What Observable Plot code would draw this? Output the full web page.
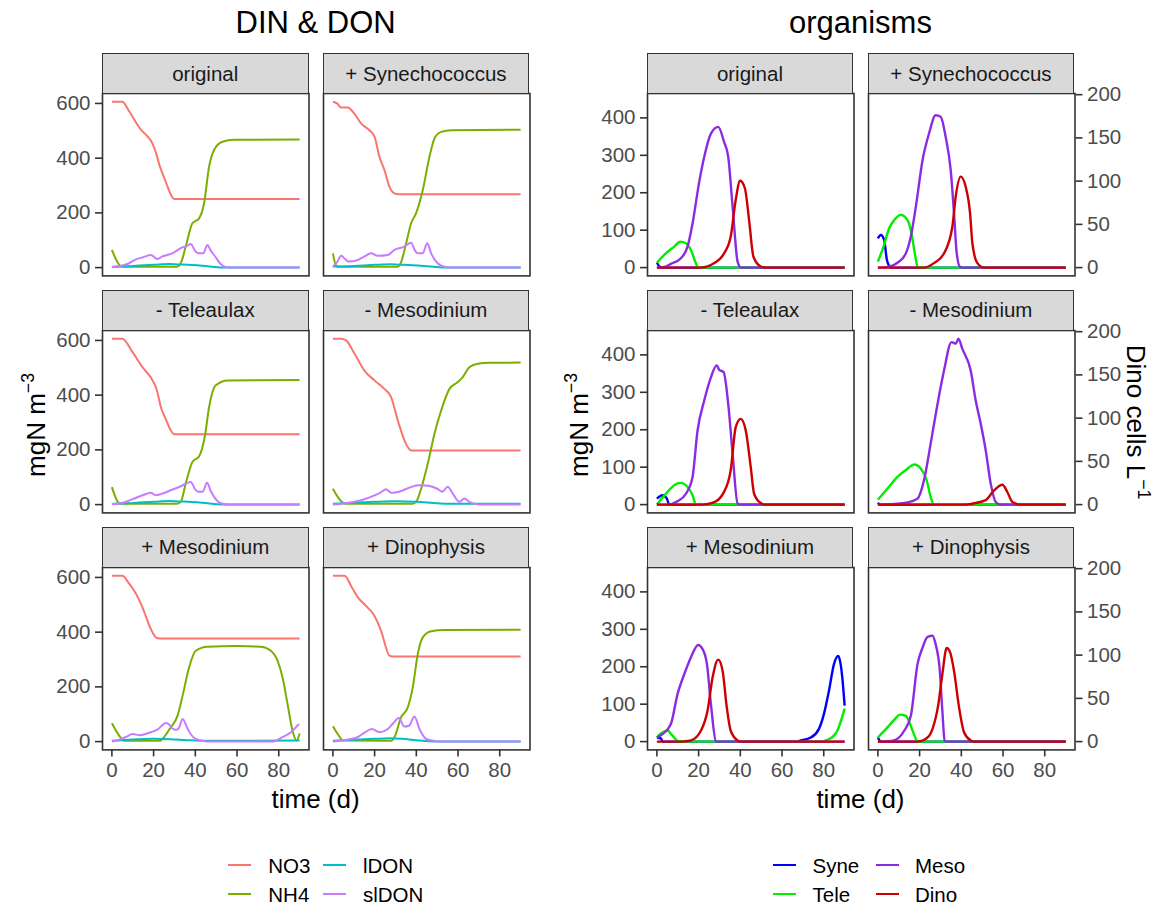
<!DOCTYPE html>
<html>
<head>
<meta charset="utf-8">
<script src="https://cdn.jsdelivr.net/npm/d3@7"></script>
<script src="https://cdn.jsdelivr.net/npm/@observablehq/plot@0.6"></script>
<style>
  html, body { margin: 0; padding: 0; background: #fff; }
  #chart { position: relative; width: 1158px; height: 908px; overflow: hidden;
           font-family: "Liberation Sans", Arial, Helvetica, sans-serif; }
  .abs { position: absolute; white-space: nowrap; }
  .strip { position: absolute; box-sizing: border-box; background: #d9d9d9;
           border: 1.6px solid #333; color: #1a1a1a; font-size: 20.5px;
           display: flex; align-items: center; justify-content: center; }
  sup { font-size: 0.68em; vertical-align: 0.6em; line-height: 0; }
  .facet svg { max-width: none !important; overflow: visible; }
</style>
</head>
<body>
<div id="chart"></div>
<script>
// ---------- facets ----------
const facets = ["original", "+ Synechococcus", "- Teleaulax", "- Mesodinium", "+ Mesodinium", "+ Dinophysis"];

// ---------- DIN & DON (mgN m-3), points are [day, value] ----------
const NO3_original = [[0,606],[5,606],[8,575],[12,525],[14,503],[17,480],[19,460],[21,423],[23,370],[25,330],[27,290],[29,257],[30,251],[90,251]];
const NH4_original = [[0,65],[3,16],[5,3],[31,3],[33,16],[35.5,80],[38.6,162],[41.8,180],[44.2,235],[46.6,369],[49,430],[53,460],[58.6,467],[90,468]];
const lDON_original = [[0,2],[10,6],[20,10],[28,13],[34,11],[42,8],[48,3],[54,0],[90,0]];
const slDON_original = [[0,2],[4,6],[8,15],[11,28],[15,38],[18.7,46],[21.8,31],[24,40],[26.6,46],[29,52],[33,71],[36,80],[37.8,86],[40,60],[41.5,52],[43.8,52],[45.8,83],[47.4,62],[49,46],[52.2,13],[54.5,2],[57,0],[90,0]];

const NO3_syn = [[0,606],[2,600],[4,585],[7,585],[10.3,563],[13.5,527],[17.5,502],[20,478],[22.3,405],[24.7,357],[27.1,296],[29.5,271],[31,268],[90,268]];
const NH4_syn = [[0,52],[1.5,8],[3,3],[31,3],[32.5,16],[35,85],[37.5,162],[39.9,199],[43.1,284],[46.3,405],[48.7,472],[51.9,496],[56.7,502],[90,504]];
const lDON_syn = [[0,4],[10,6],[20,10],[28,12],[34,10],[42,7],[48,3],[54,0],[90,0]];
const slDON_syn = [[0,3],[2,20],[4,43],[6,30],[7.5,22],[12,28],[15,40],[18.3,52],[21.5,43],[26.3,46],[29.5,65],[34.3,77],[37.5,91],[39.5,60],[40.7,52],[43.1,52],[45.2,89],[47.1,52],[50.2,16],[53,4],[56,0],[90,0]];

const NO3_noTele = [[0,606],[5,606],[9.9,557],[14.7,502],[19.5,454],[21.5,420],[23.5,356],[26,310],[28.5,268],[29.9,257],[90,257]];
const NH4_noTele = [[0,64],[3.5,5],[5,3],[31,3],[33,10],[35.5,80],[38.6,156],[41.8,176],[44.5,247],[46.6,356],[49.8,436],[55.4,454],[90,455]];
const lDON_noTele = [[0,2],[10,6],[20,10],[28,13],[34,11],[42,8],[48,3],[54,0],[90,0]];
const slDON_noTele = [[0,2],[5,6],[10,20],[15,35],[18.7,43],[21,34],[24,40],[29,55],[33,67],[37.8,83],[40,55],[41.5,47],[43.5,47],[45.6,80],[47.4,50],[50.5,14],[53,3],[56,0],[90,0]];

const NO3_noMeso = [[0,606],[4,606],[6.3,600],[10.4,551],[15.1,490],[19.9,454],[24.7,423],[27.9,393],[31.1,308],[34.3,235],[37,200],[37.5,198],[90,198]];
const NH4_noMeso = [[0,58],[4,12],[6,3],[38,3],[39.9,10],[42.3,58],[45.5,150],[48.7,259],[51.9,344],[55.9,423],[59.9,448],[62.3,466],[65.4,502],[69.5,515],[75,518],[90,519]];
const lDON_noMeso = [[0,3],[10,7],[20,10],[30,12],[40,10],[50,5],[56,3],[90,3]];
const slDON_noMeso = [[0,0],[6,5],[13.5,16],[20,34],[23,45],[25.5,56],[27.9,43],[30.5,45],[33.5,52],[36.7,62],[40.7,71],[44,70],[46.3,68],[50,58],[52.5,47],[55,65],[57.5,40],[60.7,10],[63,22],[65.4,10],[68.6,2],[71,0],[90,0]];

const NO3_addMeso = [[0,606],[5.1,606],[8,580],[10.7,551],[14.7,490],[18.7,411],[21.1,381],[22.7,377],[90,377]];
const NH4_addMeso = [[0,67],[4,16],[5.5,3],[23,3],[24.3,10],[28,50],[31.5,95],[33.9,168],[37,271],[40.2,332],[45.8,347],[60,349],[71.4,347],[76.2,332],[79.4,296],[81.8,235],[84.2,138],[86.6,40],[88.6,4],[90,30]];
const lDON_addMeso = [[0,3],[10,8],[20,10],[28,9],[35,6],[42,3],[90,4]];
const slDON_addMeso = [[0,0],[4,8],[7,18],[9.9,28],[13.5,23],[16,28],[19,35],[22,45],[25.9,68],[27.5,62],[29,48],[30.7,43],[32,48],[33.9,83],[36.3,47],[38,25],[40.2,10],[44.2,2],[46,0],[77,0],[81.8,16],[85.8,34],[89.7,65]];

const NO3_addDino = [[0,606],[5.6,606],[9,565],[12,527],[16,495],[19.9,460],[23.1,405],[27.1,314],[28.7,311],[90,311]];
const NH4_addDino = [[0,56],[3,20],[4.8,4],[28,3],[29.5,16],[32.7,89],[35.9,125],[38.3,198],[40.7,320],[43.1,381],[47.1,403],[53.5,408],[90,409]];
const lDON_addDino = [[0,3],[10,7],[20,10],[27,12],[33,10],[40,5],[46,1],[52,0],[90,0]];
const slDON_addDino = [[0,0],[5,5],[11.7,16],[15,32],[18.7,46],[22.3,34],[26.3,46],[28.7,65],[31.6,86],[34.3,55],[36.5,58],[39.1,92],[41.5,46],[44.7,10],[48.7,2],[51,0],[90,0]];

// ---------- organisms (mgN m-3; Dino drawn against the same axis) ----------
const Syne_original = [[0,13],[1.5,2],[3,0],[90,0]];
const Tele_original = [[0,13],[4.3,38],[8.3,56],[11.2,69],[13.9,65],[16.3,47],[19.5,3],[20.5,0],[90,0]];
const Meso_original = [[0,0],[3,1],[6.7,10],[11.5,25],[14.7,56],[17.1,118],[20.3,229],[22.7,296],[25.9,358],[29.4,376],[32.2,336],[34.2,296],[36.3,163],[38.7,16],[40.3,0],[90,0]];
const Dino_original = [[0,0],[21,0],[27.5,12],[32.2,38],[35.4,83],[37.8,181],[39.9,232],[42.2,212],[44.2,127],[46.3,29],[49.8,3],[52,0],[90,0]];

const Syne_syn = [[0,78],[1.4,87],[3,74],[4.3,21],[5.3,5],[6,0],[90,0]];
const Tele_syn = [[0,16],[2.7,56],[5.4,105],[7.8,127],[11,141],[14.2,127],[16.1,92],[17.7,38],[19,3],[20,0],[90,0]];
const Meso_syn = [[0,0],[5,2],[9.4,13],[13.4,38],[15.8,83],[18.2,163],[21.4,287],[24.5,358],[27.7,407],[30.1,403],[32.5,349],[34.9,261],[36.5,145],[37.8,38],[39.4,2],[41,0],[90,0]];
const Dino_syn = [[0,0],[22,0],[26.9,12],[31.7,38],[35.7,109],[37.3,189],[39.7,243],[42.1,216],[44.2,145],[45.3,65],[47.7,12],[50.9,0],[90,0]];

const Syne_noTele = [[0,16],[2.7,25],[4.8,16],[5.9,0],[90,0]];
const Tele_noTele = [[0,0],[5.1,34],[8.3,52],[11.5,58],[14.7,47],[17.1,25],[18.7,0],[90,0]];
const Meso_noTele = [[0,0],[5,0],[9.9,9],[13.9,29],[17.1,74],[19.5,198],[22.7,278],[25.9,340],[28.7,372],[29.9,360],[32,354],[34.2,269],[36.3,136],[38.7,3],[40,0],[90,0]];
const Dino_noTele = [[0,0],[22,0],[27,5],[32.2,34],[35.4,92],[37.8,207],[40.2,229],[42.6,198],[45,100],[46.6,29],[49.8,4],[52,0],[90,0]];

const Syne_noMeso = [[0,5],[1,0],[90,0]];
const Tele_noMeso = [[0,13],[4.6,43],[9.4,74],[14.2,96],[17.4,107],[20.6,96],[23.4,65],[25.3,20],[26.9,0],[90,0]];
const Meso_noMeso = [[0,0],[8,2],[14.2,6],[19,16],[22.1,65],[25.3,163],[28.6,269],[31.7,358],[35.3,434],[37.4,430],[38.6,443],[40.5,416],[44.5,358],[46.9,278],[49.3,216],[51.7,145],[54.1,56],[56.5,7],[58.9,0],[90,0]];
const Dino_noMeso = [[0,0],[42,0],[45.5,3],[51.7,12],[55.7,38],[59.7,53],[62.1,33],[64.5,7],[68.5,0],[90,0]];

const Syne_addMeso = [[0,11],[2,8],[2.7,0],[66,0],[69,3],[73.8,11],[77.7,34],[80.1,74],[82.5,136],[84.9,207],[86.9,229],[88.1,207],[88.9,171],[90,96]];
const Tele_addMeso = [[0,11],[1.9,22],[5.1,29],[7.5,16],[9.9,2],[11,0],[79,0],[81,3],[84.9,16],[86.5,29],[90,88]];
const Meso_addMeso = [[0,11],[2.7,20],[6.7,47],[9.9,127],[13.1,180],[16.3,225],[19.8,258],[21.9,247],[24,207],[25.9,100],[28.3,1],[29,0],[90,0]];
const Dino_addMeso = [[0,0],[12,0],[16.3,3],[21.1,29],[24.3,83],[26.7,171],[29.4,219],[31.5,189],[33.5,92],[35.4,29],[38.7,3],[40,0],[90,0]];

const Syne_addDino = [[0,11],[1.5,0],[90,0]];
const Tele_addDino = [[0,11],[4.6,38],[7.8,58],[10.6,72],[13.4,69],[15.4,47],[17.3,20],[19,0],[90,0]];
const Meso_addDino = [[0,0],[4,0],[7.8,3],[12.6,29],[15.8,69],[19,207],[21.4,251],[23.8,280],[26.2,283],[27.7,260],[29.7,189],[30.9,83],[32,3],[33,0],[90,0]];
const Dino_addDino = [[0,0],[19,0],[23.8,11],[26.2,34],[29,100],[30.9,180],[33,250],[34.6,239],[36.5,189],[38.9,92],[41.3,25],[44.5,3],[46,0],[90,0]];

// ---------- series, colours, ticks ----------
const dinNames = ["NO3", "NH4", "lDON", "slDON"];
const dinColors = ["#F8766D", "#7CAE00", "#00BFC4", "#C77CFF"];
const orgNames = ["Syne", "Tele", "Meso", "Dino"];
const orgColors = ["#0000FF", "#00EE00", "#8A2BE2", "#CD0000"];

const dinByFacet = [
  [NO3_original, NH4_original, lDON_original, slDON_original],
  [NO3_syn, NH4_syn, lDON_syn, slDON_syn],
  [NO3_noTele, NH4_noTele, lDON_noTele, slDON_noTele],
  [NO3_noMeso, NH4_noMeso, lDON_noMeso, slDON_noMeso],
  [NO3_addMeso, NH4_addMeso, lDON_addMeso, slDON_addMeso],
  [NO3_addDino, NH4_addDino, lDON_addDino, slDON_addDino]
];
const orgByFacet = [
  [Syne_original, Tele_original, Meso_original, Dino_original],
  [Syne_syn, Tele_syn, Meso_syn, Dino_syn],
  [Syne_noTele, Tele_noTele, Meso_noTele, Dino_noTele],
  [Syne_noMeso, Tele_noMeso, Meso_noMeso, Dino_noMeso],
  [Syne_addMeso, Tele_addMeso, Meso_addMeso, Dino_addMeso],
  [Syne_addDino, Tele_addDino, Meso_addDino, Dino_addDino]
];

const timeTicks = [0, 20, 40, 60, 80];
const dinTicks = [0, 200, 400, 600];
const orgTicks = [0, 100, 200, 300, 400];
const dinoCellTicks = [0, 50, 100, 150, 200];
const cellsToMgN = 2.31;   // secondary axis: Dino cells L-1 -> mgN m-3

// ---------- layout ----------
const FONT = '"Liberation Sans", Arial, Helvetica, sans-serif';
const PW = 206.5, PH = 182.4;
const ML = 60, MR = 60, MT = 4, MB = 44;
const STRIP = 40;
const dinCols = [102, 322.7];
const orgCols = [646.7, 867.7];
const rowTops = [93.3, 329.95, 566.6];
const root = document.getElementById("chart");

function text(html, cx, cy, size, opts = {}) {
  const d = document.createElement("div");
  d.className = "abs";
  d.innerHTML = html;
  d.style.left = cx + "px";
  d.style.top = cy + "px";
  d.style.fontSize = size + "px";
  d.style.lineHeight = "1";
  d.style.color = opts.color || "#000";
  d.style.transform = `translate(${opts.anchor === "start" ? "0" : "-50%"}, -50%)` + (opts.rotate ? ` rotate(${opts.rotate}deg)` : "");
  root.appendChild(d);
  return d;
}

const axisStyle = {tickSize: 7, stroke: "#333", strokeWidth: 1.6, fill: "#4d4d4d", label: null};

function facetPlot(seriesList, colors, yDomain, {left, right, bottom, leftTicks, lineWidth}) {
  const marks = [];
  seriesList.forEach((pts, i) => {
    const data = pts.map(([t, v]) => ({t, v}));
    marks.push(Plot.line(data, {x: "t", y: "v", stroke: colors[i], strokeWidth: lineWidth,
      curve: "monotone-x", strokeLinejoin: "round", strokeLinecap: "butt"}));
  });
  marks.push(Plot.frame({stroke: "#333", strokeWidth: 1.6}));
  if (left) marks.push(Plot.axisY(leftTicks, {...axisStyle, anchor: "left", tickPadding: 5}));
  if (right) marks.push(Plot.axisY(dinoCellTicks.map(c => c * cellsToMgN),
      {...axisStyle, anchor: "right", tickPadding: 5, tickFormat: d => String(Math.round(d / cellsToMgN))}));
  if (bottom) marks.push(Plot.axisX(timeTicks, {...axisStyle, anchor: "bottom", tickPadding: 6}));
  return Plot.plot({
    width: PW + ML + MR, height: PH + MT + MB,
    marginLeft: ML, marginRight: MR, marginTop: MT, marginBottom: MB,
    x: {domain: [-4.5, 94.5], axis: null},
    y: {domain: yDomain, axis: null},
    style: {background: "transparent", fontFamily: FONT, fontSize: "20.5px", overflow: "visible"},
    marks
  });
}

function addPanel(cols, byFacet, colors, yDomain, leftTicks, withRight, lineWidth) {
  facets.forEach((name, i) => {
    const row = Math.floor(i / 2), col = i % 2;
    const px = cols[col], py = rowTops[row];
    const holder = document.createElement("div");
    holder.className = "abs facet";
    holder.style.left = (px - ML) + "px";
    holder.style.top = (py - MT) + "px";
    holder.style.width = (PW + ML + MR) + "px";
    holder.appendChild(facetPlot(byFacet[i], colors, yDomain, {
      left: col === 0, right: withRight && col === 1, bottom: row === 2, leftTicks, lineWidth
    }));
    root.appendChild(holder);
    const s = document.createElement("div");
    s.className = "strip";
    s.textContent = name;
    s.style.left = px + "px";
    s.style.top = (py - STRIP) + "px";
    s.style.width = PW + "px";
    s.style.height = (STRIP + 1) + "px";
    root.appendChild(s);
  });
}

addPanel(dinCols, dinByFacet, dinColors, [-30.3, 636.3], dinTicks, false, 2);
addPanel(orgCols, orgByFacet, orgColors, [-22.15, 465.15], orgTicks, true, 2.4);

// titles and axis titles
const dinCx = (dinCols[0] + dinCols[1] + PW) / 2;
const orgCx = (orgCols[0] + orgCols[1] + PW) / 2;
text("DIN &amp; DON", dinCx, 22, 31);
text("organisms", orgCx, 22, 31);
text("time (d)", dinCx, 799, 26);
text("time (d)", orgCx, 799, 26);
text("mgN m<sup>−3</sup>", 36, 425, 26, {rotate: -90});
text("mgN m<sup>−3</sup>", 579, 425, 26, {rotate: -90});
text("Dino cells L<sup>−1</sup>", 1136, 422, 26, {rotate: 90});

// legends: two columns, filled column by column
function legend(names, colors, keyXs, textXs, rowYs) {
  names.forEach((n, i) => {
    const col = Math.floor(i / 2), row = i % 2;
    const k = document.createElement("div");
    k.className = "abs";
    k.style.left = keyXs[col] + "px";
    k.style.top = (rowYs[row] - 1) + "px";
    k.style.width = "22.5px";
    k.style.height = "2.2px";
    k.style.background = colors[i];
    root.appendChild(k);
    text(n, textXs[col], rowYs[row] + 1, 20.5, {anchor: "start"});
  });
}
legend(dinNames, dinColors, [228.3, 323.3], [268.3, 363], [865, 893.5]);
legend(orgNames, orgColors, [773.3, 876], [812.5, 915], [865, 893.5]);
</script>
</body>
</html>
